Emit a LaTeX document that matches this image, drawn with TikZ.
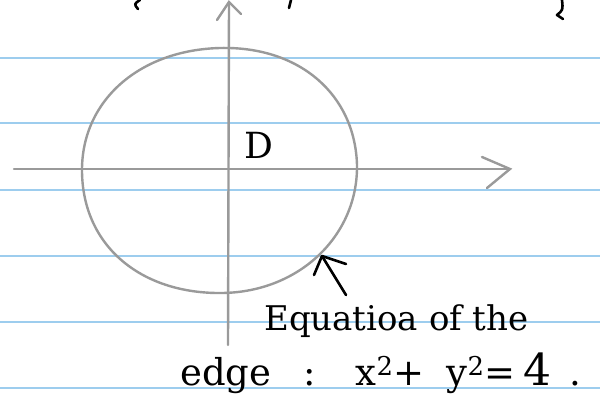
\documentclass[tikz,border=0pt]{standalone}
\usepackage{fontspec}
\setmainfont{DejaVu Serif}
\begin{document}
\begin{tikzpicture}[x=1pt,y=-1pt,
  ruled/.style={draw=rule,line width=2.8pt},
  pencil/.style={draw=pencilgray,line width=2.4pt,line cap=round},
  ink/.style={draw=black,line width=2.6pt,line cap=round,line join=round},
  hand/.style={inner sep=0pt,anchor=base west}]
\definecolor{rule}{HTML}{9DCDEE}
\definecolor{pencilgray}{HTML}{9A9A9A}
\fill[white] (0,0) rectangle (600,400);
\useasboundingbox (0,0) rectangle (600,400);
% ruled paper lines
\foreach \yy in {58,123,190,256,322,388} \draw[ruled] (0,\yy) -- (600,\yy);
% cut-off handwriting at top
\draw[ink] (140,0) .. controls (134,4) .. (138,9);
\draw[ink] (291,0) -- (289,8);
\draw[ink] (562,0) .. controls (563,10) .. (557,15) -- (563,19);
% axes
\coordinate (yb) at (228,345);
\coordinate (yt) at (229,2);
\coordinate (xl) at (14,169);
\coordinate (xr) at (510,169);
\draw[pencil] (yb) -- (yt);
\draw[pencil] (217,20) -- (yt) -- (241,14);
\draw[pencil] (xl) -- (xr);
\draw[pencil] (482,157) -- (xr) -- (487,188);
% region boundary
\draw[pencil] (220,48) .. controls (300,46) and (355,95) .. (357,165)
  .. controls (358,235) and (300,292) .. (222,293)
  .. controls (140,294) and (82,245) .. (82,170)
  .. controls (82,100) and (140,50) .. (220,48) -- cycle;
\coordinate (edgept) at (322,256);
% labels
\node[hand,font=\fontsize{36}{36}\selectfont] (D) at (244,158) {D};
\node[hand,font=\fontsize{34}{34}\selectfont] (eq1) at (264,330) {Equatioa of the};
\node[hand,font=\fontsize{37}{37}\selectfont] (eq2) at (180,385)
  {edge\hspace{32pt}:\hspace{40pt}x\textsuperscript{2}+\hspace{22pt}y\textsuperscript{2}=\hspace{8pt}{\fontsize{44}{44}\selectfont 4}\hspace{18pt}.};
\coordinate (tail) at (346,295);
\draw[ink] (tail) -- (edgept);
\draw[ink] (314,275) -- (edgept) -- (346,264);
\end{tikzpicture}
\end{document}
